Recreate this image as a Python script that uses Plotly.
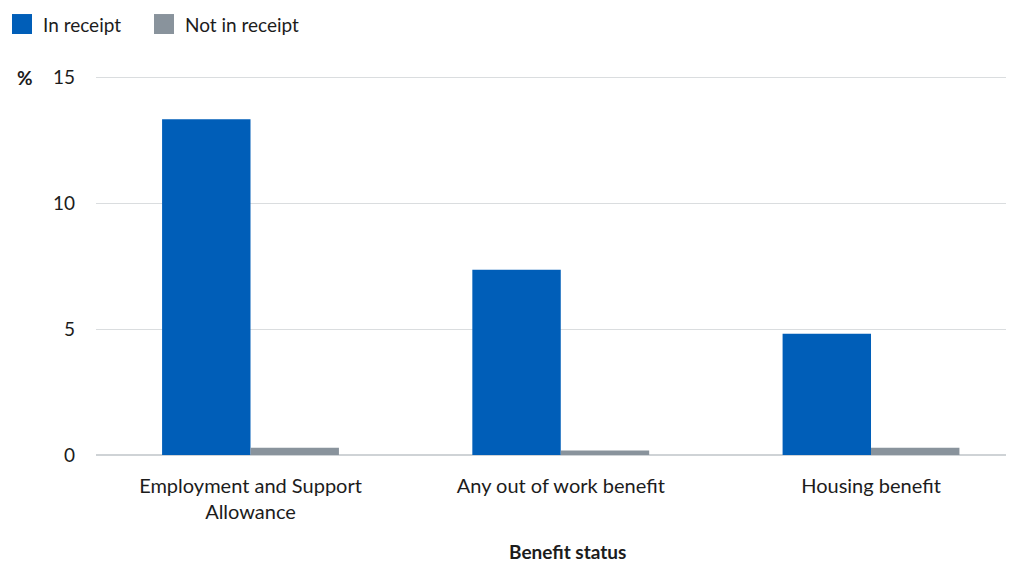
import plotly.graph_objects as go

categories = ["Employment and Support<br>Allowance", "Any out of work benefit", "Housing benefit"]
series_names = ["In receipt", "Not in receipt"]
in_receipt = [13.32, 7.35, 4.81]
not_in_receipt = [0.29, 0.18, 0.29]
y_ticks = [0, 5, 10, 15]

BLUE = "#005EB8"
GREY = "#89939C"
FONT = "Lato"
TXT = "#1c1c1c"

# page has an 8px body margin, so figure is drawn 8px in from the corner
OFF = 8
W, H = 1014 - OFF, 563 - OFF
YMAX = 15.12
PL, PR, PB = 96, 1010, 455
PT = PB - YMAX * (PB - 77) / 15.0
L = PL - OFF
R = 1014 - PR
T = PT - OFF
B = 563 - PB
pw = W - L - R
ph = H - T - B

def px_x(px):
    return (px - PL) / pw

def px_y(py):
    return (PB - py) / ph

# manual legend
legend_items = [(12, series_names[0], BLUE), (154, series_names[1], GREY)]
shapes = []
annotations = []
for x0, name, col in legend_items:
    shapes.append(dict(type="rect", xref="paper", yref="paper",
                       x0=px_x(x0), x1=px_x(x0 + 20),
                       y0=px_y(34), y1=px_y(14),
                       fillcolor=col, line=dict(width=0)))
    annotations.append(dict(text=name, xref="paper", yref="paper",
                            x=px_x(x0 + 29), y=px_y(24),
                            xanchor="left", yanchor="middle", showarrow=False,
                            font=dict(family=FONT, size=19, color=TXT)))

annotations.append(dict(text="<b>%</b>", xref="paper", yref="paper",
                        x=px_x(15), y=px_y(77),
                        xanchor="left", yanchor="middle", showarrow=False,
                        font=dict(family=FONT, size=19, color=TXT)))
annotations.append(dict(text="<b>Benefit status</b>", xref="paper", yref="paper",
                        x=px_x(567), y=px_y(552),
                        xanchor="center", yanchor="middle", showarrow=False,
                        font=dict(family=FONT, size=19, color=TXT)))

fig = go.Figure()
fig.add_trace(go.Bar(x=categories, y=in_receipt, name=series_names[0],
                     marker=dict(color=BLUE, line=dict(width=0)), showlegend=False))
fig.add_trace(go.Bar(x=categories, y=not_in_receipt, name=series_names[1],
                     marker=dict(color=GREY, line=dict(width=0)), showlegend=False))

fig.update_layout(
    width=W, height=H,
    margin=dict(l=L, r=R, t=T, b=B, pad=0),
    barmode="group", bargap=0.43, bargroupgap=0,
    plot_bgcolor="white", paper_bgcolor="white",
    font=dict(family=FONT, size=19, color=TXT),
    shapes=shapes, annotations=annotations,
    xaxis=dict(range=[-0.498, 2.448], showgrid=False, showline=False, zeroline=False,
               ticks="", tickfont=dict(family=FONT, size=20, color=TXT),
               ticklabelstandoff=17),
    yaxis=dict(range=[0, YMAX], tickvals=y_ticks, showgrid=True, gridcolor="#DADDDF",
               gridwidth=1, zeroline=True, zerolinecolor="#CFD3D6", zerolinewidth=1.5,
               showline=False, ticks="", tickfont=dict(family=FONT, size=19, color=TXT),
               ticklabelstandoff=20),
)

fig.write_html("out.html")
